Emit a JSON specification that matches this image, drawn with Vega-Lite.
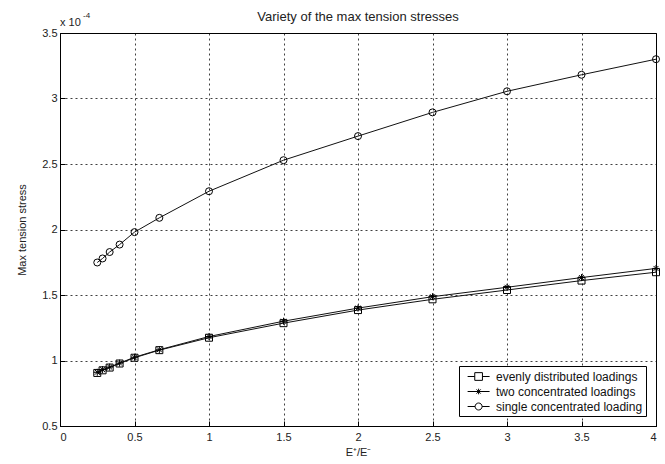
{
  "$schema": "https://vega.github.io/schema/vega-lite/v6.json",
  "width": 596,
  "height": 393,
  "autosize": "none",
  "padding": {"left": 60, "top": 33, "right": 9, "bottom": 38},
  "background": "white",
  "config": {
    "font": "Liberation Sans",
    "view": {"stroke": "#000", "strokeWidth": 1},
    "axis": {
      "labelFont": "Liberation Sans", "titleFont": "Liberation Sans",
      "labelFontSize": 11, "titleFontSize": 11, "titleFontWeight": "normal",
      "labelColor": "#222", "titleColor": "#222",
      "domainColor": "#000", "tickColor": "#000", "tickSize": -5,
      "gridColor": "#000", "gridDash": [2, 3], "gridOpacity": 0.75, "gridWidth": 1
    },
    "legend": {
      "labelFont": "Liberation Sans", "labelFontSize": 12, "labelColor": "#111",
      "strokeColor": "#000", "fillColor": "white", "padding": 3,
      "symbolSize": 196, "rowPadding": 1, "labelOffset": 12, "symbolOffset": 7,
      "symbolOpacity": 1, "symbolStrokeColor": "#000", "symbolFillColor": "transparent", "symbolStrokeWidth": 1
    }
  },
  "resolve": {"scale": {"shape": "independent"}, "legend": {"shape": "independent"}},
  "title": {"text": "Variety of the max tension stresses", "fontSize": 13, "fontWeight": "normal", "font": "Liberation Sans", "color": "#222", "offset": -12, "frame": "group"},
  "data": {"values": [
    {"x": 0.25, "y": 0.905, "s": "evenly distributed loadings"},
    {"x": 0.2857, "y": 0.925, "s": "evenly distributed loadings"},
    {"x": 0.3333, "y": 0.946, "s": "evenly distributed loadings"},
    {"x": 0.4, "y": 0.977, "s": "evenly distributed loadings"},
    {"x": 0.5, "y": 1.021, "s": "evenly distributed loadings"},
    {"x": 0.6667, "y": 1.079, "s": "evenly distributed loadings"},
    {"x": 1, "y": 1.174, "s": "evenly distributed loadings"},
    {"x": 1.5, "y": 1.285, "s": "evenly distributed loadings"},
    {"x": 2, "y": 1.385, "s": "evenly distributed loadings"},
    {"x": 2.5, "y": 1.467, "s": "evenly distributed loadings"},
    {"x": 3, "y": 1.538, "s": "evenly distributed loadings"},
    {"x": 3.5, "y": 1.61, "s": "evenly distributed loadings"},
    {"x": 4, "y": 1.674, "s": "evenly distributed loadings"},
    {"x": 0.25, "y": 0.91, "s": "two concentrated loadings"},
    {"x": 0.2857, "y": 0.93, "s": "two concentrated loadings"},
    {"x": 0.3333, "y": 0.95, "s": "two concentrated loadings"},
    {"x": 0.4, "y": 0.98, "s": "two concentrated loadings"},
    {"x": 0.5, "y": 1.025, "s": "two concentrated loadings"},
    {"x": 0.6667, "y": 1.082, "s": "two concentrated loadings"},
    {"x": 1, "y": 1.183, "s": "two concentrated loadings"},
    {"x": 1.5, "y": 1.3, "s": "two concentrated loadings"},
    {"x": 2, "y": 1.4, "s": "two concentrated loadings"},
    {"x": 2.5, "y": 1.487, "s": "two concentrated loadings"},
    {"x": 3, "y": 1.559, "s": "two concentrated loadings"},
    {"x": 3.5, "y": 1.633, "s": "two concentrated loadings"},
    {"x": 4, "y": 1.703, "s": "two concentrated loadings"},
    {"x": 0.25, "y": 1.748, "s": "single concentrated loading"},
    {"x": 0.2857, "y": 1.779, "s": "single concentrated loading"},
    {"x": 0.3333, "y": 1.828, "s": "single concentrated loading"},
    {"x": 0.4, "y": 1.885, "s": "single concentrated loading"},
    {"x": 0.5, "y": 1.98, "s": "single concentrated loading"},
    {"x": 0.6667, "y": 2.089, "s": "single concentrated loading"},
    {"x": 1, "y": 2.292, "s": "single concentrated loading"},
    {"x": 1.5, "y": 2.529, "s": "single concentrated loading"},
    {"x": 2, "y": 2.713, "s": "single concentrated loading"},
    {"x": 2.5, "y": 2.894, "s": "single concentrated loading"},
    {"x": 3, "y": 3.055, "s": "single concentrated loading"},
    {"x": 3.5, "y": 3.181, "s": "single concentrated loading"},
    {"x": 4, "y": 3.3, "s": "single concentrated loading"}
  ]},
  "encoding": {
    "x": {"field": "x", "type": "quantitative",
      "scale": {"domain": [0, 4], "nice": false, "zero": false},
      "axis": {"title": "E⁺/E⁻", "values": [0, 0.5, 1, 1.5, 2, 2.5, 3, 3.5, 4], "format": "~g", "labelPadding": 10, "titlePadding": 4}},
    "y": {"field": "y", "type": "quantitative",
      "scale": {"domain": [0.5, 3.5], "nice": false, "zero": false},
      "axis": {"title": "Max tension stress", "values": [0.5, 1, 1.5, 2, 2.5, 3, 3.5], "format": "~g", "labelPadding": 8, "titlePadding": 14}}
  },
  "layer": [
    {
      "mark": {"type": "line", "stroke": "#111", "strokeWidth": 1},
      "encoding": {"detail": {"field": "s"}}
    },
    {
      "mark": {"type": "point", "filled": false, "stroke": "#000", "strokeWidth": 1, "size": 49, "opacity": 1},
      "encoding": {
        "shape": {"field": "s", "type": "nominal",
          "scale": {"domain": ["single concentrated loading", "evenly distributed loadings", "two concentrated loadings"],
                    "range": ["circle", "square", "M-1,0H1M0,-1V1M-0.7,-0.7L0.7,0.7M-0.7,0.7L0.7,-0.7"]},
          "legend": null
        }
      }
    },
    {
      "mark": {"type": "point", "filled": false, "stroke": "#000", "strokeWidth": 1, "opacity": 0},
      "encoding": {
        "shape": {"field": "s", "type": "nominal",
          "scale": {"domain": ["evenly distributed loadings", "two concentrated loadings", "single concentrated loading"],
                    "range": ["M-1.27,0H-0.25M0.85,0H1.87M-0.25,-0.55H0.85V0.55H-0.25Z", "M-1.27,0H1.87M0.3,-0.4V0.4M0,-0.3L0.6,0.3M0,0.3L0.6,-0.3", "M-1.27,0H-0.2M0.8,0H1.87M-0.2,0A0.5,0.5 0 1,0 0.8,0A0.5,0.5 0 1,0 -0.2,0Z"]},
          "legend": {"title": null, "orient": "bottom-right", "offset": 10, "symbolOpacity": 1}
        }
      }
    },
    {
      "data": {"values": [{"x": 0, "y": 3.5, "t": "x 10"}]},
      "mark": {"type": "text", "align": "left", "baseline": "alphabetic", "dx": 0, "dy": -7, "fontSize": 11, "color": "#222", "font": "Liberation Sans"},
      "encoding": {"text": {"field": "t"}}
    },
    {
      "data": {"values": [{"x": 0, "y": 3.5, "t": "-4"}]},
      "mark": {"type": "text", "align": "left", "baseline": "alphabetic", "dx": 23, "dy": -15, "fontSize": 8, "color": "#222", "font": "Liberation Sans"},
      "encoding": {"text": {"field": "t"}}
    }
  ]
}
